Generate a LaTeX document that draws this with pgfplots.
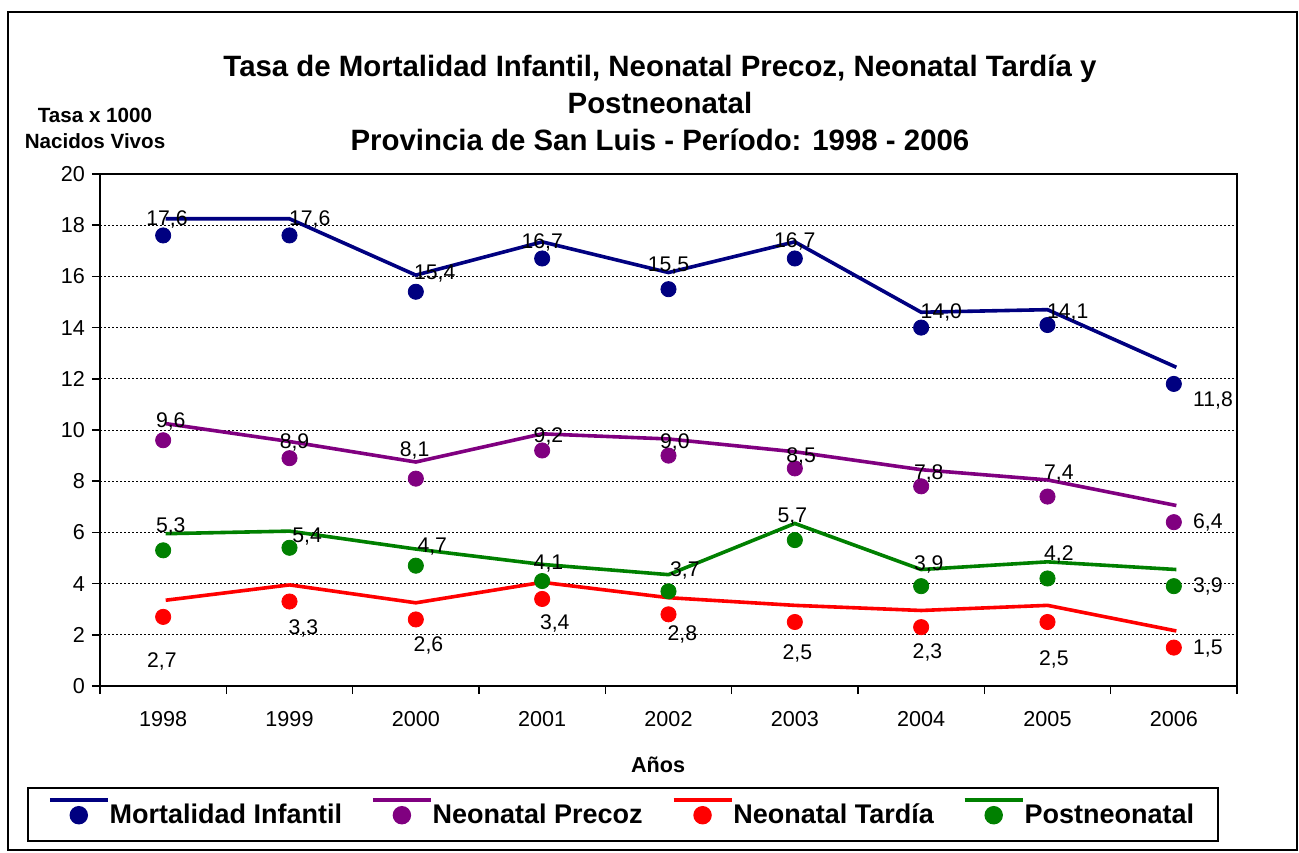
\documentclass[border=0pt]{standalone}
\usepackage{pgfplots}
\pgfplotsset{compat=1.18}
\usepackage{fontspec}
\setmainfont{Liberation Sans}
\definecolor{cMI}{RGB}{0,0,128}
\definecolor{cNP}{RGB}{128,0,128}
\definecolor{cNT}{RGB}{255,0,0}
\definecolor{cPN}{RGB}{0,128,0}
\newcommand{\legimg}[1]{\draw[#1, line width=1.8pt] (0pt,7.5pt) -- (29pt,7.5pt); \fill[#1] (14.5pt,0pt) circle (3.7pt);}
\begin{document}
\begin{tikzpicture}
\path (0,0) rectangle (649.5pt,426pt);
\draw[line width=1pt] (4pt,1pt) rectangle (648.5pt,420pt);
\begin{axis}[
  at={(50pt,83pt)}, anchor=south west,
  scale only axis, width=568.5pt, height=256pt,
  xmin=-0.5, xmax=8.5, ymin=0, ymax=20,
  xtick={-0.5,0.5,...,8.5}, xticklabels={},
  extra x ticks={0,1,2,3,4,5,6,7,8},
  extra x tick labels={1998,1999,2000,2001,2002,2003,2004,2005,2006},
  extra x tick style={major tick length=0pt},
  ytick={0,2,...,20},
  tick align=outside, tick pos=left,
  major tick length=4pt,
  tick style={black, line width=0.8pt},
  axis line style={line width=1pt},
  ymajorgrids, grid style={black, line width=0.5pt, dash pattern=on 1.2pt off 0.8pt},
  /pgf/number format/assume math mode=true,
  ticklabel style={font=\fontsize{10.8}{12}\selectfont},
  xticklabel shift=9pt,
  clip=false,
  title={Tasa de Mortalidad Infantil, Neonatal Precoz, Neonatal Tardía y\\Postneonatal\\Provincia de San Luis - Período: 1998 - 2006},
  every axis title/.style={at={(axis description cs:0.4925,1.1387)}, anchor=center, align=center, font=\bfseries\fontsize{14.7}{18.5}\selectfont},
  ylabel={Tasa x 1000\\Nacidos Vivos},
  every axis y label/.style={at={(axis description cs:-0.0044,1.0898)}, anchor=center, align=center, font=\bfseries\fontsize{10.3}{13}\selectfont},
  xlabel={Años},
  every axis x label/.style={at={(axis description cs:0.4908,-0.1543)}, anchor=center, font=\bfseries\fontsize{10.8}{13}\selectfont},
  legend columns=4,
  legend style={at={(axis description cs:0.46,-0.251)}, anchor=center, draw=black, line width=1pt,
    font=\bfseries\fontsize{13.5}{16}\selectfont, inner xsep=10pt, inner ysep=5pt,
    /tikz/every even column/.append style={column sep=12.5pt},
    /tikz/every odd column/.append style={column sep=-2pt}},
]
% lines
\addplot[cMI, line width=1.8pt, mark=none, legend image code/.code={\legimg{cMI}}] table[row sep=\\]{
x y\\ 0.02 18.25\\ 1 18.25\\ 2 16.05\\ 3 17.35\\ 4 16.15\\ 5 17.35\\ 6 14.6\\ 7 14.7\\ 8.02 12.45\\};
\addlegendentry{Mortalidad Infantil}
\addplot[cNP, line width=1.8pt, mark=none, legend image code/.code={\legimg{cNP}}] table[row sep=\\]{
x y\\ 0.02 10.25\\ 1 9.55\\ 2 8.75\\ 3 9.85\\ 4 9.65\\ 5 9.15\\ 6 8.45\\ 7 8.05\\ 8.02 7.05\\};
\addlegendentry{Neonatal Precoz}
\addplot[cNT, line width=1.8pt, mark=none, legend image code/.code={\legimg{cNT}}] table[row sep=\\]{
x y\\ 0.02 3.35\\ 1 3.95\\ 2 3.25\\ 3 4.05\\ 4 3.45\\ 5 3.15\\ 6 2.95\\ 7 3.15\\ 8.02 2.15\\};
\addlegendentry{Neonatal Tardía}
\addplot[cPN, line width=1.8pt, mark=none, legend image code/.code={\legimg{cPN}}] table[row sep=\\]{
x y\\ 0.02 5.95\\ 1 6.05\\ 2 5.35\\ 3 4.75\\ 4 4.35\\ 5 6.35\\ 6 4.55\\ 7 4.85\\ 8.02 4.55\\};
\addlegendentry{Postneonatal}
% points
\addplot[forget plot, only marks, mark=*, mark size=3.8pt, cMI] table[row sep=\\]{
x y\\ 0 17.6\\ 1 17.6\\ 2 15.4\\ 3 16.7\\ 4 15.5\\ 5 16.7\\ 6 14.0\\ 7 14.1\\ 8 11.8\\};
\addplot[forget plot, only marks, mark=*, mark size=3.8pt, cNP] table[row sep=\\]{
x y\\ 0 9.6\\ 1 8.9\\ 2 8.1\\ 3 9.2\\ 4 9.0\\ 5 8.5\\ 6 7.8\\ 7 7.4\\ 8 6.4\\};
\addplot[forget plot, only marks, mark=*, mark size=3.8pt, cNT] table[row sep=\\]{
x y\\ 0 2.7\\ 1 3.3\\ 2 2.6\\ 3 3.4\\ 4 2.8\\ 5 2.5\\ 6 2.3\\ 7 2.5\\ 8 1.5\\};
\addplot[forget plot, only marks, mark=*, mark size=3.8pt, cPN] table[row sep=\\]{
x y\\ 0 5.3\\ 1 5.4\\ 2 4.7\\ 3 4.1\\ 4 3.7\\ 5 5.7\\ 6 3.9\\ 7 4.2\\ 8 3.9\\};
% data labels
\addplot[forget plot, only marks, mark=none, nodes near coords, point meta=explicit symbolic,
  every node near coord/.style={anchor=center, inner sep=0pt, black, font=\fontsize{10.6}{12}\selectfont}]
  table[meta=lab, row sep=\\]{
x y lab\\
0.03 18.24 17,6\\ 1.16 18.24 17,6\\ 2.15 16.13 15,4\\ 3.0 17.32 16,7\\ 4.0 16.42 15,5\\ 5.0 17.38 16,7\\ 6.16 14.6 14,0\\ 7.16 14.6 14,1\\ 8.31 11.17 11,8\\
0.06 10.35 9,6\\ 1.04 9.53 8,9\\ 1.99 9.2 8,1\\ 3.05 9.75 9,2\\ 4.05 9.52 9,0\\ 5.05 8.97 8,5\\ 6.06 8.3 7,8\\ 7.09 8.3 7,4\\ 8.27 6.37 6,4\\
0.06 6.25 5,3\\ 1.14 5.82 5,4\\ 2.13 5.43 4,7\\ 3.05 4.8 4,1\\ 4.13 4.53 3,7\\ 4.98 6.6 5,7\\ 6.06 4.73 3,9\\ 7.09 5.12 4,2\\ 8.27 3.87 3,9\\
-0.01 0.94 2,7\\ 1.11 2.26 3,3\\ 2.1 1.6 2,6\\ 3.1 2.46 3,4\\ 4.11 2.0 2,8\\ 5.02 1.28 2,5\\ 6.05 1.33 2,3\\ 7.05 1.02 2,5\\ 8.27 1.48 1,5\\
};
\end{axis}
\end{tikzpicture}
\end{document}
